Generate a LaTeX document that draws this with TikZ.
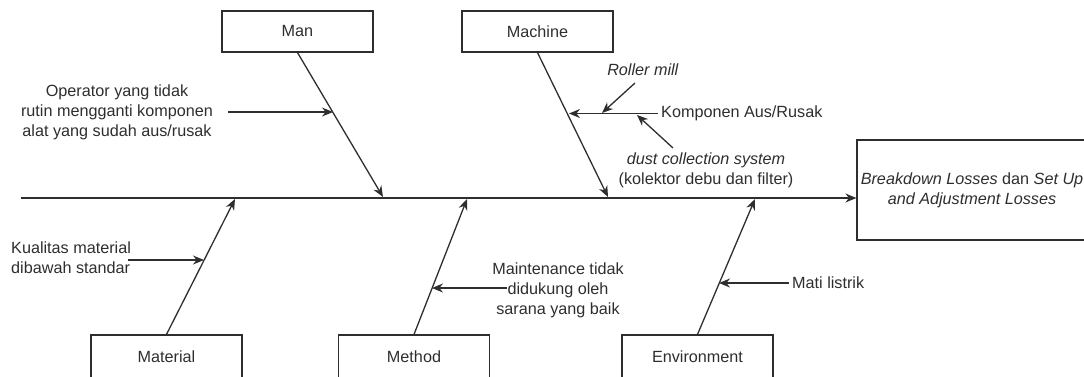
\documentclass[tikz,border=0pt]{standalone}
\usepackage{fontspec}
\setmainfont{Liberation Sans}
\usetikzlibrary{arrows.meta,calc}
\definecolor{ink}{HTML}{2E2E2E}
\begin{document}
\begin{tikzpicture}[x=1pt,y=-1pt,
  box/.style={draw=ink,line width=1.2pt,minimum width=151pt,minimum height=41pt,inner sep=0pt,text=ink},
  lbl/.style={text=ink,align=center,inner sep=0pt},
  line/.style={draw=ink,line width=1.3pt},
  arr/.style={line,-{Stealth[length=11pt,width=9pt]}},
  every node/.append style={font=\fontsize{16.2}{20}\selectfont}]
\useasboundingbox (0,0) rectangle (1084,376);
% boxes
\node[box] (man) at (297.5,31.5) {Man};
\node[box] (machine) at (537.5,31.5) {Machine};
\node[box,minimum height=43pt] (material) at (166.5,356.5) {Material};
\node[box,minimum height=43pt] (method) at (414,356.5) {Method};
\node[box,minimum height=43pt] (env) at (697.5,356.5) {Environment};
\node[box,minimum width=230pt,minimum height=100pt,align=center] (effect) at (972,190)
  {\textit{Breakdown Losses} dan \textit{Set Up}\\\textit{and Adjustment Losses}};
% spine
\coordinate (s0) at (21,198);
\draw[arr] (s0) -- (s0 -| effect.west);
% branch end points on spine
\coordinate (pman) at (383,197);
\coordinate (pmach) at (608,197);
\coordinate (pmat) at (235,199);
\coordinate (pmeth) at (467,199);
\coordinate (penv) at (755,199);
\draw[arr] (man.south) -- (pman);
\draw[arr] (machine.south) -- (pmach);
\draw[arr] (material.north) -- (pmat);
\draw[arr] (method.north) -- (pmeth);
\draw[arr] (env.north) -- (penv);
% Man cause
\node[lbl] (op) at (117,112) {Operator yang tidak\\rutin mengganti komponen\\alat yang sudah aus/rusak};
\coordinate (opstart) at (228,112);
\coordinate (cman) at (333,112);
\draw[arr] (opstart) -- (cman);
% Machine causes
\node[lbl,anchor=west] (komp) at (661,113.5) {Komponen Aus/Rusak};
\coordinate (cmach) at (569,114);
\draw[arr] ([xshift=-3pt]komp.west) -- (cmach |- komp.west);
\node[lbl] (roller) at (643,70) {\textit{Roller mill}};
\coordinate (rstart) at (635,83);
\coordinate (troller) at (602,113);
\draw[arr] (rstart) -- (troller);
\node[lbl] (dust) at (706,170) {\textit{dust collection system}\\(kolektor debu dan filter)};
\coordinate (tdust) at (637,115);
\coordinate (dstart) at (673,148);
\draw[arr] (dstart) -- (tdust);
% Material cause
\node[lbl,anchor=west,align=left] (kual) at (11,257.5) {Kualitas material\\dibawah standar};
\coordinate (kstart) at (128,260);
\coordinate (cmat) at (204,260);
\draw[arr] (kstart) -- (cmat);
% Method cause
\node[lbl] (maint) at (558,290) {Maintenance tidak\\didukung oleh\\sarana yang baik};
\coordinate (mstart) at (507,288);
\coordinate (cmeth) at (432,288);
\draw[arr] (mstart) -- (cmeth);
% Environment cause
\node[lbl,anchor=west] (mati) at (792,283) {Mati listrik};
\coordinate (cenv) at (719,283);
\draw[arr] ([xshift=-3pt]mati.west) -- (cenv);
\end{tikzpicture}
\end{document}
